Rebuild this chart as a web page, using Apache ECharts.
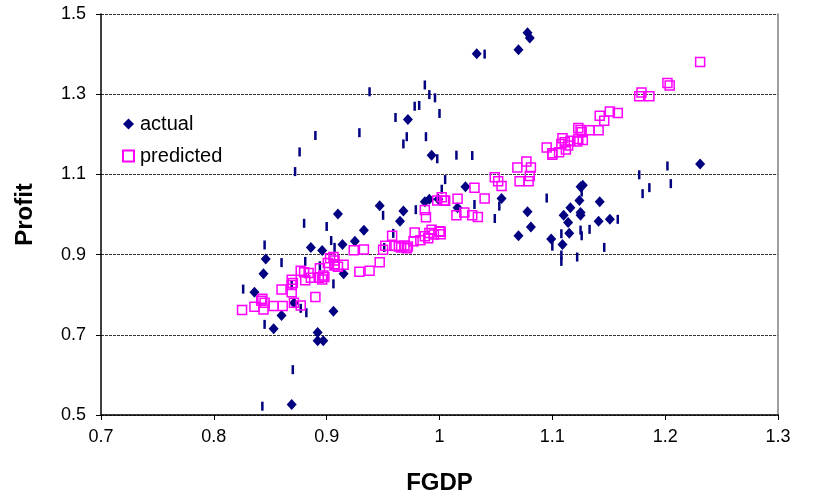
<!DOCTYPE html>
<html>
<head>
<meta charset="utf-8">
<script src="https://cdn.jsdelivr.net/npm/echarts@6/dist/echarts.min.js"></script>
<style>
html,body{margin:0;padding:0;background:#fff;}
#chart{width:813px;height:500px;}
</style>
</head>
<body>
<div id="chart"></div>
<script>
// ---- data ----
const xTicks = [0.7, 0.8, 0.9, 1, 1.1, 1.2, 1.3];
const yTicks = [0.5, 0.7, 0.9, 1.1, 1.3, 1.5];

const actual = [
  [1.033,1.401],[1.070,1.411],[1.078,1.453],[1.080,1.440],[0.972,1.237],[0.993,1.148],
  [1.231,1.126],[0.947,1.022],[0.910,1.001],[0.968,1.009],[0.965,0.983],[0.987,1.032],
  [0.991,1.038],[0.933,0.961],[0.886,0.918],[0.896,0.910],[0.914,0.925],[0.925,0.933],
  [0.846,0.889],[0.844,0.852],[0.836,0.806],[0.915,0.852],[0.860,0.748],[0.853,0.715],
  [0.871,0.779],[0.906,0.759],[0.892,0.706],[0.892,0.685],[0.897,0.685],[0.869,0.526],
  [1.023,1.069],[1.016,1.017],[1.055,1.040],[1.078,1.007],[1.081,0.969],[1.070,0.947],
  [1.099,0.939],[1.125,1.069],[1.127,1.073],[1.124,1.035],[1.142,1.032],[1.116,1.017],
  [1.125,1.005],[1.125,0.998],[1.110,0.998],[1.114,0.980],[1.141,0.983],[1.151,0.988],
  [1.115,0.953],[1.109,0.925],[0.999,1.038]
];

const actualOther = [
  [0.938,1.306],[0.987,1.323],[0.991,1.299],[0.996,1.291],[0.978,1.270],[0.982,1.272],
  [0.961,1.242],[1.000,1.252],[0.890,1.197],[0.929,1.204],[0.971,1.194],[0.968,1.176],
  [0.988,1.194],[0.998,1.139],[0.876,1.156],[0.872,1.107],[1.005,1.087],[1.002,1.063],
  [0.950,0.998],[0.979,1.012],[1.015,1.148],[1.040,1.400],[1.029,1.147],[1.177,1.099],
  [1.202,1.121],[1.205,1.077],[1.186,1.067],[1.180,1.052],[1.095,1.041],[1.031,1.025],
  [1.053,1.021],[1.049,0.990],[1.158,0.988],[1.133,0.963],[1.125,0.961],[1.126,0.947],
  [1.108,0.952],[1.100,0.921],[1.108,0.899],[1.108,0.883],[1.122,0.894],[1.146,0.918],
  [1.126,1.056],[0.880,0.978],[0.900,0.970],[0.904,0.935],[0.907,0.918],[0.845,0.924],
  [0.860,0.880],[0.826,0.814],[0.881,0.883],[0.906,0.827],[0.869,0.825],[0.877,0.766],
  [0.882,0.755],[0.845,0.726],[0.894,0.872],[0.870,0.613],[0.843,0.522],[0.959,0.953],
  [0.951,0.918]
];

const predicted = [
  [1.231,1.380],[1.202,1.328],[1.204,1.322],[1.179,1.304],[1.177,1.295],[1.186,1.295],
  [1.151,1.257],[1.158,1.253],[1.142,1.246],[1.146,1.234],[1.123,1.216],[1.125,1.211],
  [1.126,1.205],[1.133,1.210],[1.141,1.210],[1.123,1.188],[1.127,1.186],[1.122,1.182],
  [1.109,1.190],[1.111,1.180],[1.108,1.176],[1.116,1.184],[1.114,1.172],[1.112,1.162],
  [1.095,1.167],[1.100,1.153],[1.100,1.149],[1.106,1.155],[1.069,1.117],[1.077,1.132],
  [1.081,1.117],[1.071,1.083],[1.079,1.083],[1.080,1.096],[1.049,1.093],[1.052,1.083],
  [1.055,1.071],[1.031,1.067],[1.040,1.040],[1.016,1.039],[1.004,1.035],[1.005,1.034],
  [1.015,0.998],[1.022,1.005],[1.029,0.998],[1.034,0.994],[1.001,0.957],[1.001,0.951],
  [1.002,1.043],[0.998,1.035],[0.987,1.011],[0.988,0.993],[0.958,0.947],[0.978,0.955],
  [0.977,0.933],[0.983,0.936],[0.987,0.946],[0.990,0.941],[0.993,0.962],[0.991,0.954],
  [0.995,0.950],[1.000,0.958],[0.961,0.922],[0.964,0.920],[0.966,0.918],[0.969,0.923],
  [0.971,0.916],[0.972,0.920],[0.952,0.922],[0.950,0.912],[0.947,0.881],[0.929,0.857],
  [0.938,0.860],[0.924,0.911],[0.933,0.913],[0.906,0.894],[0.907,0.876],[0.915,0.875],
  [0.825,0.762],[0.836,0.770],[0.843,0.790],[0.845,0.780],[0.844,0.763],[0.842,0.785],
  [0.853,0.772],[0.861,0.772],[0.860,0.813],[0.869,0.837],[0.870,0.829],[0.869,0.824],
  [0.869,0.806],[0.871,0.780],[0.877,0.773],[0.877,0.860],[0.880,0.856],[0.881,0.836],
  [0.886,0.842],[0.884,0.854],[0.890,0.794],[0.894,0.866],[0.893,0.842],[0.896,0.838],
  [0.897,0.848],[0.898,0.844],[0.901,0.879],[0.903,0.891],[0.907,0.873],[0.910,0.870],
  [0.907,0.885]
];

// ---- chart ----
const chart = echarts.init(document.getElementById('chart'), null, {renderer: 'canvas'});
const font = 'Arial, "Liberation Sans", sans-serif';
const navy = '#000080';
const magenta = '#FF00FF';

chart.setOption({
  animation: false,
  backgroundColor: '#fff',
  textStyle: {fontFamily: font},
  grid: {left: 101, right: 35, top: 14, bottom: 82, containLabel: false},
  legend: {
    data: ['actual', 'predicted'],
    orient: 'vertical',
    left: 117, top: 109,
    itemWidth: 11, itemHeight: 11, itemGap: 12,
    textStyle: {fontSize: 20, color: '#000', fontFamily: font, padding: [0,0,0,1]}
  },
  xAxis: {
    type: 'value',
    min: xTicks[0], max: xTicks[xTicks.length - 1], interval: 0.1,
    name: 'FGDP', nameLocation: 'middle', nameGap: 56,
    nameTextStyle: {fontSize: 24, fontWeight: 'bold', color: '#000', fontFamily: font},
    axisLine: {onZero: false, lineStyle: {color: '#000', width: 1.5}},
    axisTick: {show: true, length: 5, inside: false, lineStyle: {color: '#000'}},
    axisLabel: {fontSize: 18, color: '#000', margin: 13, fontFamily: font},
    splitLine: {show: false}
  },
  yAxis: [{
    type: 'value',
    min: yTicks[0], max: yTicks[yTicks.length - 1], interval: 0.2,
    name: 'Profit', nameLocation: 'middle', nameGap: 64, nameRotate: 90,
    nameTextStyle: {fontSize: 24, fontWeight: 'bold', color: '#000', fontFamily: font},
    axisLine: {show: true, onZero: false, lineStyle: {color: '#000', width: 1.5}},
    axisTick: {show: true, length: 5, inside: false, lineStyle: {color: '#000'}},
    axisLabel: {fontSize: 18, color: '#000', margin: 15, fontFamily: font},
    splitLine: {show: true, lineStyle: {color: '#333', type: [3, 1], width: 1}}
  }, {
    type: 'value', position: 'right',
    min: yTicks[0], max: yTicks[yTicks.length - 1], interval: 0.2,
    axisLine: {show: true, onZero: false, lineStyle: {color: '#808080', width: 1.5}},
    axisTick: {show: false}, axisLabel: {show: false}, splitLine: {show: false}
  }],
  series: [
    {
      name: 'actualOther', type: 'scatter', data: actualOther,
      symbol: 'rect', symbolSize: [2.5, 9],
      itemStyle: {color: navy, opacity: 1}, z: 2
    },
    {
      name: 'actual', type: 'scatter', data: actual,
      symbol: 'diamond', symbolSize: [10, 11],
      itemStyle: {color: navy, opacity: 1}, z: 3
    },
    {
      name: 'predicted', type: 'scatter', data: predicted,
      symbol: 'rect', symbolSize: 9,
      itemStyle: {color: 'rgba(255,255,255,0)', borderColor: magenta, borderWidth: 1.5, opacity: 1}, z: 4
    }
  ]
});
</script>
</body>
</html>
